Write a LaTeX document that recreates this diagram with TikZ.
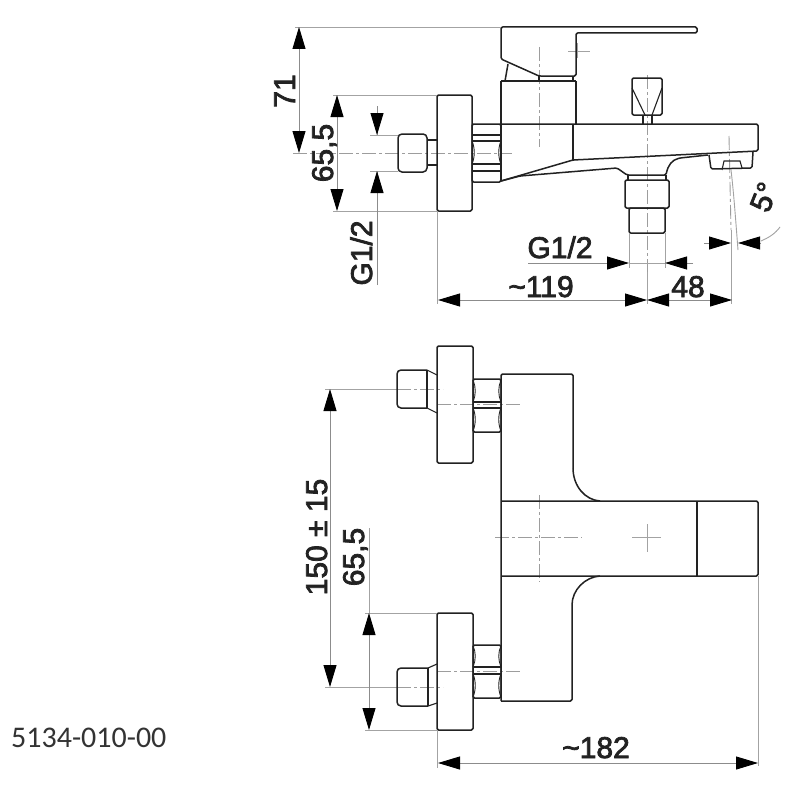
\documentclass[tikz,border=0pt]{standalone}
\usepackage{fontspec}
\usetikzlibrary{arrows.meta}
\setmainfont{Liberation Sans}
\newfontfamily\dimfont[FakeBold=2.5]{Liberation Sans}
\newfontfamily\codefont{Carlito}
\definecolor{outline}{HTML}{222222}
\definecolor{dimgray}{HTML}{8C8C8C}
\definecolor{codegray}{HTML}{333333}
\tikzset{
  part/.style={draw=outline,line width=1.5pt,line join=round,rounded corners=1.5pt},
  stub/.style={draw=outline,line width=1.5pt,rounded corners=4pt},
  thinpart/.style={draw=outline,line width=1.1pt},
  nutcurve/.style={draw=outline,line width=0.9pt},
  dimline/.style={draw=dimgray,line width=0.9pt,>={Triangle[length=22pt,width=13pt,color=black]}},
  extline/.style={draw=dimgray!80,line width=0.9pt},
  centerline/.style={draw=dimgray!85,line width=0.9pt,dash pattern=on 14pt off 3pt on 3pt off 3pt},
  dimtext/.style={font=\dimfont\fontsize{30}{31}\selectfont,text=outline,inner sep=0pt,anchor=base},
  codetext/.style={font=\codefont\fontsize{30}{31}\selectfont,text=codegray,inner sep=0pt,anchor=base west}
}
\begin{document}
\begin{tikzpicture}[x=1pt,y=-1pt]
\useasboundingbox (0,0) rectangle (800,800);
\fill[white] (0,0) rectangle (800,800);

% ---- top view: centre lines
\draw[centerline] (293,153) -- (512,153);
\draw[centerline] (539,47) -- (539,147);
\draw[extline] (568,51) -- (590,51) (577,43) -- (577,58);
\draw[centerline] (647,75) -- (647,272);
\draw[extline] (647,272) -- (647,304);
\draw[centerline] (729,136) -- (731,230);
\draw[extline] (731,230) -- (731,304);
\draw[extline] (731,170) .. controls (734,195) and (736,225) .. (738,250);

% ---- top view: outlines
\draw[part] (501,59) -- (501,27) -- (697,27) -- (697,33) -- (576,33) -- (576,76) -- (539,76) -- cycle;
\draw[part] (508,64) -- (505,81);
\draw[part] (501,81) -- (576,81);
\draw[thinpart] (573,76) -- (573,81) (539,76) -- (539,81);
\draw[part] (501,181) -- (501,81);
\draw[part] (576,81) -- (576,124);
\draw[part] (501,124) -- (758,124) -- (758,151) -- (573,160) -- (501,181);
\draw[part] (573,124) -- (573,160);
\draw[part] (501,181) -- (520,176) -- (617,168) -- (627,175) -- (666,175) .. controls (668,165) and (672,160) .. (680,158) -- (708,155);
\draw[part] (709,155) -- (711,169) -- (752,168) -- (753,152);
\draw[thinpart] (722,170) -- (724,161) -- (740,161) -- (742,168);
\draw[part] (632,78) rectangle (662,115);
\draw[thinpart] (632,88) -- (645,115) (662,88) -- (652,115);
\draw[thinpart] (643,115) -- (643,124) (652,115) -- (652,124);
\draw[part] (628,175) -- (628,180) (666,175) -- (666,180);
\draw[part] (625,180) rectangle (669,208);
\draw[part] (629,208) rectangle (665,233);

% left stub, flange and nut (side view)
\draw[stub] (398,134) rectangle (427,172);
\draw[thinpart] (427,140) -- (437,140) (427,165) -- (437,165);
\draw[part] (437,95) rectangle (472,211);
\draw[part] (472,124) rectangle (501,182);
\draw[thinpart] (472,135) -- (501,135) (472,141) -- (501,141) (472,164) -- (501,164) (472,171) -- (501,171);
\draw[nutcurve] (472,141) .. controls (475,148) and (475,157) .. (472,164)
                (501,141) .. controls (498,148) and (498,157) .. (501,164);

% ---- top view: dimensions
\draw[extline] (295,27) -- (501,27);
\draw[dimline,<->] (299,27) -- (299,153);
\draw[extline] (333,95) -- (437,95) (333,211) -- (437,211);
\draw[dimline,<->] (337,95) -- (337,211);
\draw[extline] (370,135) -- (398,135) (370,171) -- (398,171);
\draw[extline] (377,106) -- (377,135) (377,171) -- (377,285);
\draw[dimline,->] (377,106) -- (377,135);
\draw[dimline,->] (377,285) -- (377,171);
\draw[extline] (437,211) -- (437,304);
\draw[extline] (629,233) -- (629,268) (665,233) -- (665,268);
\draw[dimline,->] (528,263) -- (629,263);
\draw[dimline,->] (693,263) -- (665,263);
\draw[extline] (629,263) -- (665,263);
\draw[dimline,<->] (438,300) -- (647,300);
\draw[dimline,<->] (647,300) -- (732,300);
\draw[dimline,->] (704,243) -- (731,243);
\draw[dimline,->] (761,243) -- (738,243);
\draw[extline] (761,241) .. controls (768,238) and (775,234) .. (780,227);

\node[dimtext,rotate=90] (t71) at (295,91) {71};
\node[dimtext,rotate=90] (t655a) at (333,153) {65,5};
\node[dimtext,rotate=90] (tg12a) at (372,253) {G1/2};
\node[dimtext] (tg12b) at (560,258) {G1/2};
\node[dimtext] (t119) at (541,297) {\char`~119};
\node[dimtext] (t48) at (688,297) {48};
\node[font=\dimfont\fontsize{30}{31}\selectfont,text=outline,inner sep=0pt,rotate=68] (t5) at (764,197) {5°};

% ---- bottom view: centre lines
\draw[centerline] (495,537) -- (582,537);
\draw[centerline] (539,495) -- (539,582);
\draw[extline] (632,537) -- (661,537) (647,524) -- (647,552);
\draw[centerline] (437,404) -- (520,404);
\draw[centerline] (437,671) -- (522,671);
\draw[extline] (325,389) -- (397,389);
\draw[centerline] (397,389) -- (443,389);
\draw[extline] (325,687) -- (397,687);
\draw[centerline] (397,687) -- (443,687);

% ---- bottom view: outlines
\draw[part] (501,701) -- (501,374) -- (573,374) -- (573,468);
\draw[draw=outline,line width=1.5pt] (573,468) .. controls (573,486) and (585,500) .. (600,501);
\draw[part] (501,501) -- (758,501) -- (758,576) -- (501,576);
\draw[part] (697,501) -- (697,576);
\draw[draw=outline,line width=1.5pt] (600,576) .. controls (585,577) and (572,590) .. (572,605);
\draw[part] (572,605) -- (572,701) -- (501,701);

\draw[stub] (427,370) -- (397,370) -- (397,408) -- (427,408);
\draw[thinpart] (427,370) -- (437,375) (427,408) -- (437,413);
\draw[thinpart] (427,370) -- (427,408);
\draw[part] (437,346) rectangle (473,463);
\draw[part] (473,379) rectangle (501,432);
\draw[thinpart] (473,402) -- (501,402) (473,408) -- (501,408);
\draw[nutcurve] (473,380) .. controls (476,387) and (476,395) .. (473,402)
                (501,380) .. controls (498,387) and (498,395) .. (501,402)
                (473,408) .. controls (476,415) and (476,424) .. (473,431)
                (501,408) .. controls (498,415) and (498,424) .. (501,431);

\draw[stub] (428,668) -- (397,668) -- (397,706) -- (428,706);
\draw[thinpart] (428,668) -- (437,664) (428,706) -- (437,703);
\draw[thinpart] (428,668) -- (428,706);
\draw[part] (437,613) rectangle (473,730);
\draw[part] (473,645) rectangle (501,698);
\draw[thinpart] (473,667) -- (501,667) (473,674) -- (501,674);
\draw[nutcurve] (473,646) .. controls (476,652) and (476,660) .. (473,667)
                (501,646) .. controls (498,652) and (498,660) .. (501,667)
                (473,674) .. controls (476,681) and (476,690) .. (473,697)
                (501,674) .. controls (498,681) and (498,690) .. (501,697);

% ---- bottom view: dimensions
\draw[dimline,<->] (330,389) -- (330,687);
\draw[extline] (365,613) -- (437,613) (365,730) -- (437,730);
\draw[extline] (369,528) -- (369,613);
\draw[dimline,<->] (369,613) -- (369,730);
\draw[extline] (437,730) -- (437,768) (758,576) -- (758,766);
\draw[dimline,<->] (438,763) -- (758,763);

\node[dimtext,rotate=90] (t150) at (327,537) {150 ± 15};
\node[dimtext,rotate=90] (t655b) at (364,557) {65,5};
\node[dimtext] (t182) at (596,758) {\char`~182};
\node[codetext] (code) at (11,747) {5134-010-00};
\end{tikzpicture}
\end{document}
